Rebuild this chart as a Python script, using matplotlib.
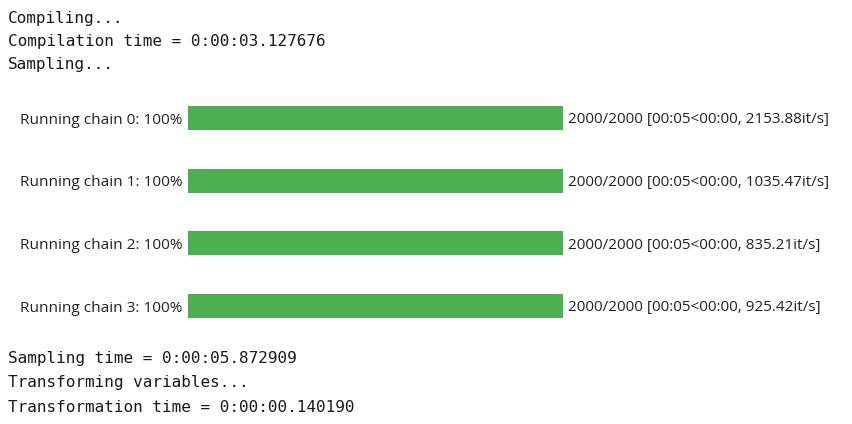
import matplotlib
matplotlib.use("Agg")
import matplotlib.pyplot as plt

W, H = 852, 424

# log lines before and after the progress bars
head_lines = ["Compiling...", "Compilation time = 0:00:03.127676", "Sampling..."]
tail_lines = ["Sampling time = 0:00:05.872909", "Transforming variables...",
              "Transformation time = 0:00:00.140190"]

# progress bar data
chains = [0, 1, 2, 3]
done = [2000, 2000, 2000, 2000]
total = [2000, 2000, 2000, 2000]
elapsed = ["00:05", "00:05", "00:05", "00:05"]
remaining = ["00:00", "00:00", "00:00", "00:00"]
rates = [2153.88, 1035.47, 835.21, 925.42]

fig = plt.figure(figsize=(W / 100, H / 100), dpi=100)
fig.patch.set_facecolor("white")

mono = dict(family=["DejaVu Sans Mono"], size=11.5, color="#1a1a1a")
for i, s in enumerate(head_lines):
    fig.text(8 / W, 1 - (18 + i * 23.5) / H, s, va="center", ha="left", **mono)
for i, s in enumerate(tail_lines):
    fig.text(8 / W, 1 - (359 + i * 24) / H, s, va="center", ha="left", **mono)

# bars axes
x0, x1 = 188, 563
yc0, yc3 = 118, 306
step = (yc3 - yc0) / 3
top = yc0 - step / 2
bot = yc3 + step / 2
ax = fig.add_axes([x0 / W, 1 - bot / H, (x1 - x0) / W, (bot - top) / H])
frac = [d / t for d, t in zip(done, total)]
ax.barh(chains, frac, height=24 / step, color="#4caf50", left=0)
ax.set_xlim(0, 1)
ax.set_ylim(3.5, -0.5)
for s in ax.spines.values():
    s.set_visible(False)
ax.set_xticks([])
ax.set_yticks(chains)
sans = ["Open Sans", "Noto Sans", "DejaVu Sans"]
ax.set_yticklabels([f"Running chain {c}: {round(100 * f)}%" for c, f in zip(chains, frac)],
                   family=sans, fontsize=11.1, color="#222222")
ax.tick_params(axis="y", length=0, pad=4)
ax.patch.set_alpha(0)

for c, d, t, e, r, rt in zip(chains, done, total, elapsed, remaining, rates):
    ax.annotate(f"{d}/{t} [{e}<{r}, {rt:.2f}it/s]", xy=(1, c), xycoords=("axes fraction", "data"),
                xytext=(3.5, 0), textcoords="offset points", va="center_baseline", ha="left",
                family=sans, fontsize=11.0, color="#222222")

fig.savefig("out.png", dpi=100, facecolor="white")
